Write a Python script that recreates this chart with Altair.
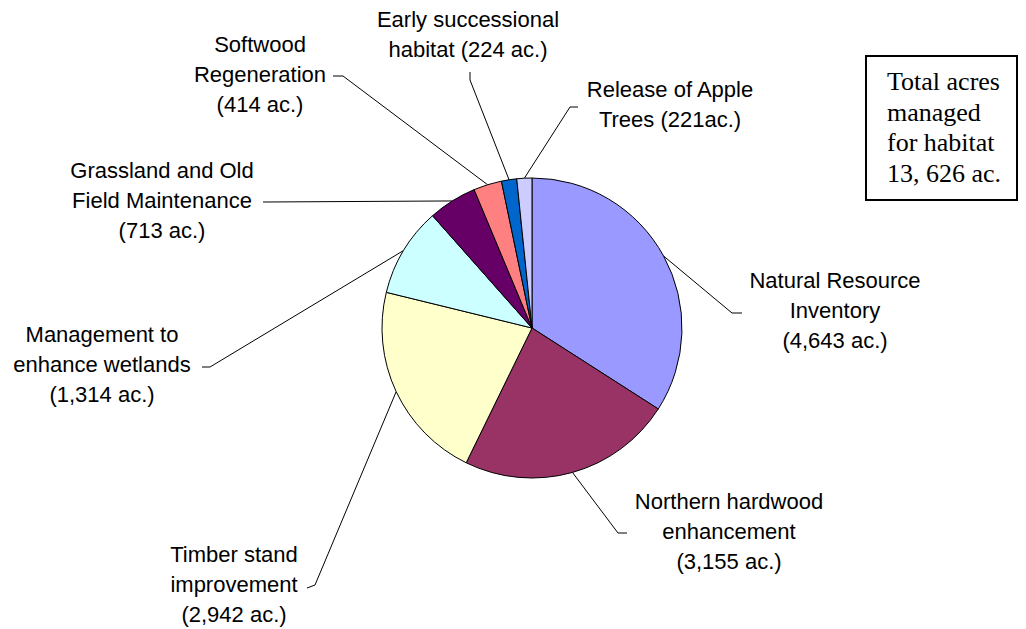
import altair as alt
import pandas as pd
import numpy as np

# ---------------- data ----------------
categories = [
    "Natural Resource Inventory",
    "Northern hardwood enhancement",
    "Timber stand improvement",
    "Management to enhance wetlands",
    "Grassland and Old Field Maintenance",
    "Softwood Regeneration",
    "Early successional habitat",
    "Release of Apple Trees",
]
acres = [4643, 3155, 2942, 1314, 713, 414, 224, 221]
label_texts = [
    "Natural Resource\nInventory\n(4,643 ac.)",
    "Northern hardwood\nenhancement\n(3,155 ac.)",
    "Timber stand\nimprovement\n(2,942 ac.)",
    "Management to\nenhance wetlands\n(1,314 ac.)",
    "Grassland and Old\nField Maintenance\n(713 ac.)",
    "Softwood\nRegeneration\n(414 ac.)",
    "Early successional\nhabitat (224 ac.)",
    "Release of Apple\nTrees (221ac.)",
]
box_lines = ["Total acres", "managed", "for habitat", "13, 626 ac."]

# ---------------- style / layout ----------------
colors = ["#9999FF", "#993366", "#FFFFCC", "#CCFFFF", "#660066", "#FF8080", "#0066CC", "#CCCCFF"]
W, H = 1010, 621
M = 8  # page margin; layout numbers below are page pixels
PIE_CX, PIE_CY, PIE_R = 532, 328, 150
# (center x, first-line y) of each label
label_xy = [(835, 281), (729, 502), (234, 555), (102, 335),
            (162, 171), (260, 45), (468, 20), (670, 90)]
leader_bends = [
    [(732, 313), (742, 313)],
    [(618, 533), (627, 533)],
    [(315, 585), (307, 588)],
    [(210, 367), (202, 367)],
    [(265, 202), (263, 202)],
    [(343, 76), (333, 76)],
    [(470, 80), (470, 72)],
    [(570, 107), (578, 107)],
]
box = dict(x=866, x2=1017, y=56, y2=200)
box_text_xy = (887, 90)

xs = alt.Scale(domain=[M, M + W], range=[0, W])
ys = alt.Scale(domain=[M, M + H], range=[0, H])

# ---------------- pie ----------------
pie_df = pd.DataFrame({"category": categories, "acres": acres, "idx": range(len(acres))})
pie = alt.Chart(pie_df).mark_arc(
    radius=PIE_R, stroke="black", strokeWidth=1, x=PIE_CX - M, y=PIE_CY - M
).encode(
    theta=alt.Theta("acres:Q", stack=True),
    color=alt.Color("category:N", scale=alt.Scale(domain=categories, range=colors), legend=None),
    order=alt.Order("idx:Q"),
)

# ---------------- leader lines (anchored at slice mid-angles) ----------------
vals = np.array(acres, dtype=float)
cum = np.cumsum(vals)
mid = (cum - vals / 2) / vals.sum() * 2 * np.pi
rows = []
for i, cat in enumerate(categories):
    ax = PIE_CX + PIE_R * np.sin(mid[i])
    ay = PIE_CY - PIE_R * np.cos(mid[i])
    pts = [(ax, ay)] + leader_bends[i]
    for j, (px, py) in enumerate(pts):
        rows.append({"label": cat, "seq": j, "px": px, "py": py})
lines_df = pd.DataFrame(rows)
leaders = alt.Chart(lines_df).mark_line(color="black", strokeWidth=1).encode(
    x=alt.X("px:Q", scale=xs, axis=None),
    y=alt.Y("py:Q", scale=ys, axis=None),
    detail="label:N",
    order="seq:Q",
)

# ---------------- labels ----------------
lab_df = pd.DataFrame({
    "text": label_texts,
    "lx": [p[0] for p in label_xy],
    "ly": [p[1] for p in label_xy],
})
labels = alt.Chart(lab_df).mark_text(
    font="Liberation Sans", fontSize=22, lineBreak="\n", lineHeight=30,
    align="center", baseline="middle", color="black"
).encode(
    x=alt.X("lx:Q", scale=xs, axis=None),
    y=alt.Y("ly:Q", scale=ys, axis=None),
    text="text:N",
)

# ---------------- total box ----------------
box_df = pd.DataFrame([box])
box_rect = alt.Chart(box_df).mark_rect(fill="white", stroke="black", strokeWidth=2).encode(
    x=alt.X("x:Q", scale=xs, axis=None), x2="x2:Q",
    y=alt.Y("y:Q", scale=ys, axis=None), y2="y2:Q",
)
box_txt_df = pd.DataFrame({"t": ["\n".join(box_lines)], "bx": [box_text_xy[0]], "by": [box_text_xy[1]]})
box_text = alt.Chart(box_txt_df).mark_text(
    font="Liberation Serif", fontSize=26, lineBreak="\n", lineHeight=30.7,
    align="left", baseline="alphabetic", color="black"
).encode(
    x=alt.X("bx:Q", scale=xs, axis=None),
    y=alt.Y("by:Q", scale=ys, axis=None),
    text="t:N",
)

chart = alt.layer(leaders, pie, labels, box_rect, box_text).properties(
    width=W, height=H, padding=0, autosize=alt.AutoSizeParams(type="none"),
    background="white",
).configure_view(stroke=None)

chart.save("out.html", embed_options={"renderer": "svg", "actions": False})
